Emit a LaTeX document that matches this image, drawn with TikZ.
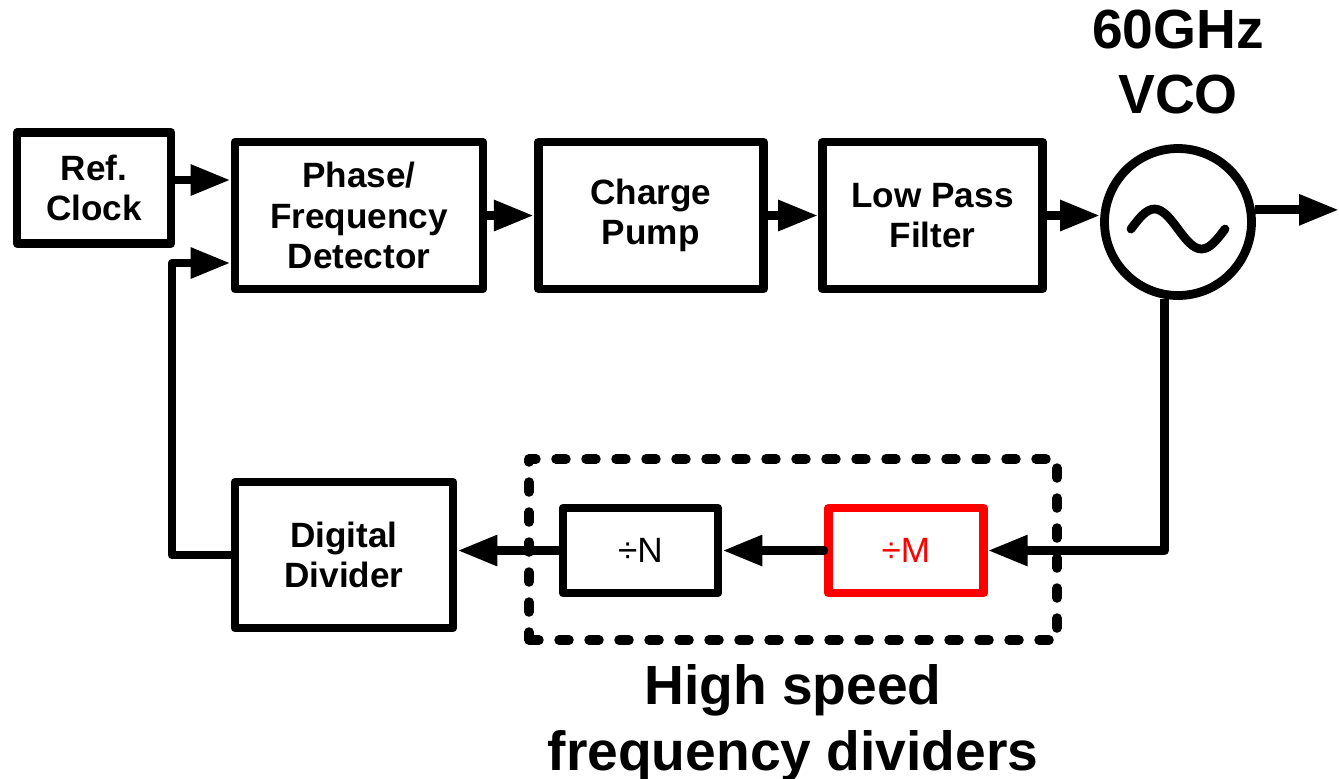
\documentclass[tikz,border=0pt]{standalone}
\usepackage{fontspec}
\setmainfont{Liberation Sans}
\usetikzlibrary{
    arrows.meta,
    positioning
}

\begin{document}
\begin{tikzpicture}[
        line width=2.5pt,
        line join=round,
        block/.style={
            rectangle,
            draw,
            align=center,
            font=\fontsize{10}{11.6}\selectfont\bfseries,
            minimum height=1.47cm
        },
        divbox/.style={
            rectangle,
            draw,
            font=\fontsize{10}{12}\selectfont,
            minimum width=1.55cm,
            minimum height=0.85cm
        },
        dashbox/.style={
            rectangle,
            draw,
            line width=2.7pt,
            dash pattern=on 0.1cm off 0.2cm,
            line cap=round
        },
        line/.style={
            -{Triangle[length=4mm, width=2.9mm]}
        },
        bigtext/.style={
            align=center,
            inner sep=0pt,
            outer sep=0pt,
            font=\fontsize{15.7}{18.6}\selectfont\bfseries
        }
    ]

    \useasboundingbox (0,0) rectangle (13.39,-7.78);

    % forward path
    \node[block, minimum width=1.54cm, minimum height=1.105cm] (refclk)
        at (0.94,-1.88) {Ref.\\Clock};

    \node[block, minimum width=2.48cm] (pfd)
        at (3.59,-2.155) {Phase/\\Frequency\\Detector};

    \node[block, minimum width=2.25cm, right=0.465cm of pfd] (cp)
        {Charge\\Pump};

    \node[block, minimum width=2.20cm, right=0.505cm of cp] (lpf)
        {Low Pass\\Filter};

    \node[circle, draw, minimum size=1.47cm, inner sep=0pt] (vco)
        at (11.78,-2.22) {};

    \node[bigtext, above=0.3cm of vco] (vcolabel)
        {60GHz\\VCO};

    % feedback path
    \node[dashbox, minimum width=5.28cm, minimum height=1.81cm] (hsd)
        at (7.93,-5.495) {};

    \node[block, minimum width=2.18cm, minimum height=1.46cm] (dd)
        at (3.44,-5.55) {Digital\\Divider};

    \node[divbox] (divn)
        at (6.405,-5.505) {÷N};

    \node[divbox, draw=red, text=red, right=1.015cm of divn] (divm)
        {÷M};

    \node[bigtext, below=0.2cm of hsd] (hsdlabel)
        {High speed\\frequency dividers};

    % sine in the oscillator
    \draw[line cap=round]
        ([shift={(-0.47,-0.07)}]vco.center)
        sin ++(0.235,0.2) cos ++(0.235,-0.2)
        sin ++(0.235,-0.2) cos ++(0.235,0.2);

    \coordinate (refin) at ([yshift=3.55mm]pfd.west);
    \coordinate (fbin) at ([yshift=-4.75mm]pfd.west);
    \coordinate (fbx) at (1.72,0);
    \coordinate (out) at (13.39,0);

    \draw[line] (refin -| refclk.east) -- (refin);
    \draw[line] (pfd.east) -- (cp.west);
    \draw[line] (cp.east) -- (lpf.west);
    \draw[line] (lpf.east) -- (lpf.east -| vco.west);
    \draw[line] (vco.9) -- (vco.9 -| out);

    \draw[line] (vco.260) |- (divm.east);
    \draw[line, line cap=round] (divm.west) -- (divn.east);
    \draw[line] (divn.west) -- (divn.west -| dd.east);
    \draw[line] (dd.west) -| (fbx |- fbin) -- (fbin);

\end{tikzpicture}
\end{document}
